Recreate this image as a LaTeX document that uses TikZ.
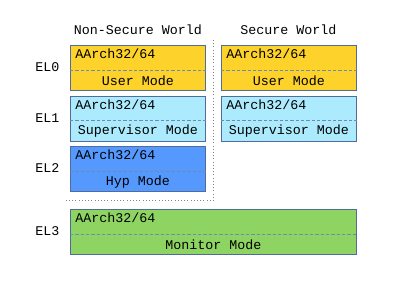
\documentclass[tikz,border=0pt]{standalone}
\usepackage{fontspec}
\setmonofont{Liberation Mono}
\usepackage{tikz}
\usetikzlibrary{positioning}

\definecolor{usercol}{HTML}{FDD22A}
\definecolor{svccol}{HTML}{ABEBFD}
\definecolor{hypcol}{HTML}{5599FE}
\definecolor{moncol}{HTML}{8ED462}
\definecolor{edgecol}{HTML}{4F6C9A}

\tikzset{
    modebox/.style={draw=edgecol, semithick, anchor=north west, minimum width=101.25pt, minimum height=33.75pt, inner sep=0pt},
    divider/.style={edgecol!80, dashed, dash pattern=on 2.5pt off 1.5pt, thin},
    archtext/.style={anchor=west, inner sep=0pt, font=\ttfamily},
    modetext/.style={inner sep=0pt, font=\ttfamily},
    eltext/.style={font=\ttfamily},
    bordertext/.style={gray, dotted, thin}
}

\begin{document}
\begin{tikzpicture}[x=0.75pt, y=-0.75pt]
    \useasboundingbox (0,0) rectangle (406,298);

    % Column headings
    \node[eltext] (nshead) at (138,30) {Non-Secure World};
    \node[eltext] (shead) at (288.5,30) {Secure World};

    % Exception levels
    \node[eltext] (el0) at (47.5,67.5) {EL0};
    \node[eltext] (el1) at (47.5,118) {EL1};
    \node[eltext] (el2) at (47.5,168.5) {EL2};
    \node[eltext] (el3) at (47.5,231.5) {EL3};

    % Non-secure side
    \node[modebox, fill=usercol] (nsuser) at (70,45) {};
    \node[modebox, fill=svccol] (nssvc) at (70,95.5) {};
    \node[modebox, fill=hypcol] (nshyp) at (70,146) {};

    % Secure side
    \node[modebox, fill=usercol] (suser) at (221,45) {};
    \node[modebox, fill=svccol] (ssvc) at (221,95.5) {};

    % Monitor spans both worlds
    \node[modebox, fill=moncol, minimum width=214.5pt] (mon) at (70,209) {};

    % Box contents
    \foreach \b/\m in {nsuser/User Mode, nssvc/Supervisor Mode, nshyp/Hyp Mode, suser/User Mode, ssvc/Supervisor Mode, mon/Monitor Mode} {
        \draw[divider] ([yshift=-18.75pt]\b.north west) -- ([yshift=-18.75pt]\b.north east);
        \node[archtext] (\b arch) at ([xshift=3.75pt, yshift=-6.75pt]\b.north west) {AArch32/64};
        \node[modetext] (\b mode) at ([yshift=7.5pt]\b.south) {\m};
    }

    % World boundary
    \coordinate (bordertop) at (213.5,40);
    \coordinate (bordercorner) at (213.5,200);
    \coordinate (borderleft) at (65,200);
    \draw[bordertext] (bordertop) -- (bordercorner) -- (borderleft);
\end{tikzpicture}
\end{document}
